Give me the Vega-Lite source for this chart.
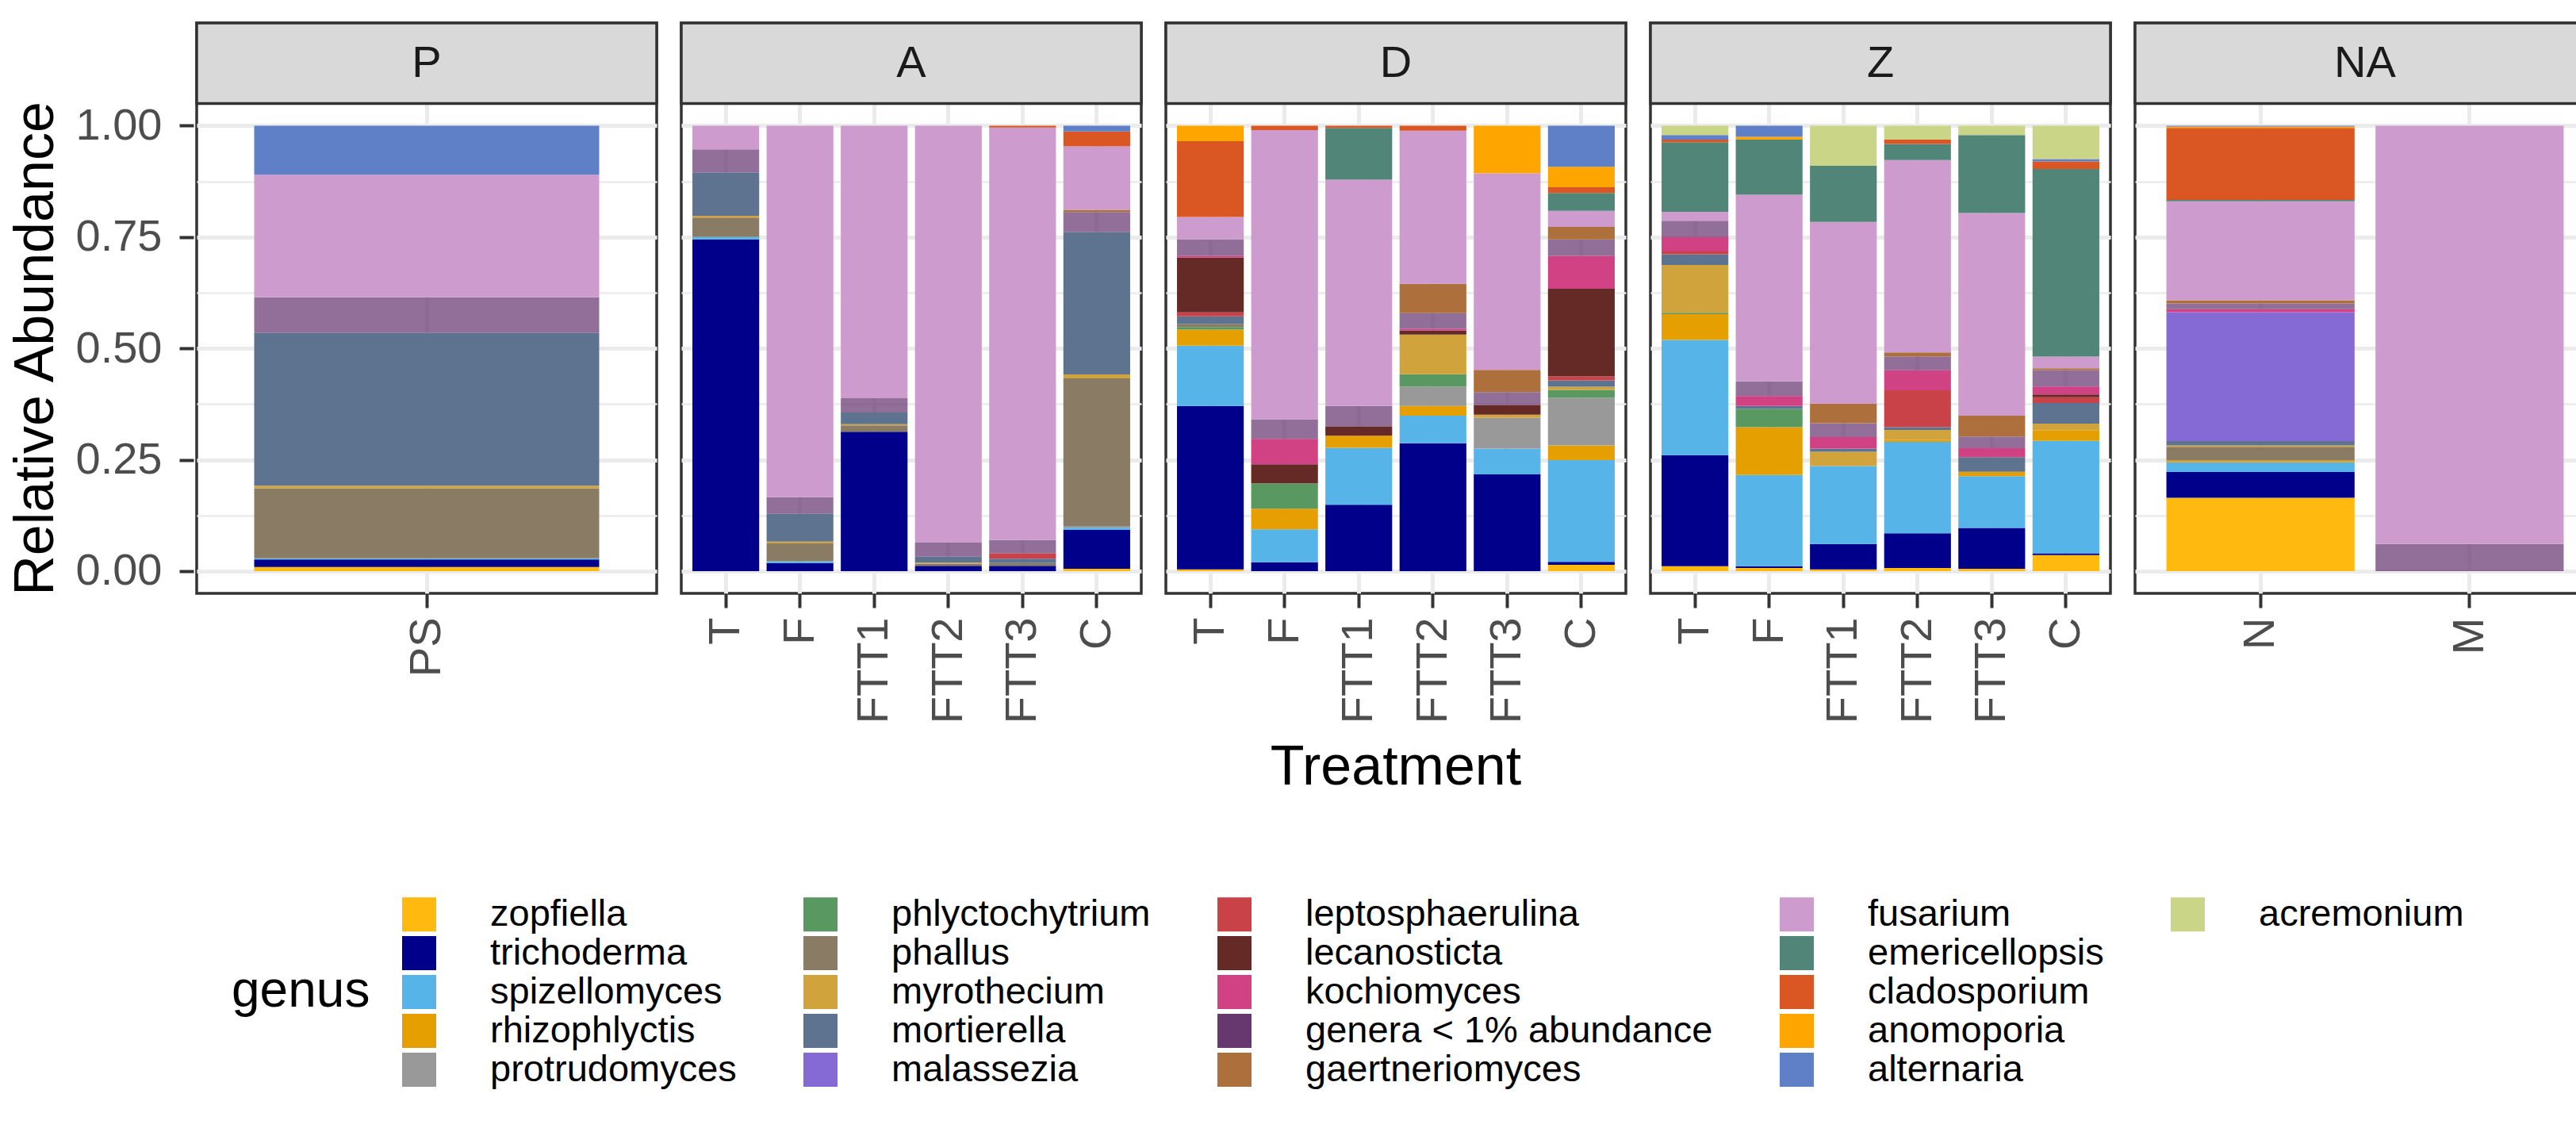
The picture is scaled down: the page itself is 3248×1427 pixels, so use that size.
{
  "$schema": "https://vega.github.io/schema/vega-lite/v6.json",
  "background": "white",
  "padding": {"left": 10, "top": 25, "right": 5, "bottom": 5},
  "data": {"values": [
    {"panel":"P","treatment":"PS","genus":"zopfiella","abundance":0.009},
    {"panel":"P","treatment":"PS","genus":"trichoderma","abundance":0.017},
    {"panel":"P","treatment":"PS","genus":"spizellomyces","abundance":0.003},
    {"panel":"P","treatment":"PS","genus":"phallus","abundance":0.157},
    {"panel":"P","treatment":"PS","genus":"myrothecium","abundance":0.006},
    {"panel":"P","treatment":"PS","genus":"mortierella","abundance":0.343},
    {"panel":"P","treatment":"PS","genus":"genera < 1% abundance","abundance":0.080},
    {"panel":"P","treatment":"PS","genus":"fusarium","abundance":0.275},
    {"panel":"P","treatment":"PS","genus":"alternaria","abundance":0.110},

    {"panel":"A","treatment":"T","genus":"trichoderma","abundance":0.745},
    {"panel":"A","treatment":"T","genus":"spizellomyces","abundance":0.005},
    {"panel":"A","treatment":"T","genus":"phallus","abundance":0.044},
    {"panel":"A","treatment":"T","genus":"myrothecium","abundance":0.004},
    {"panel":"A","treatment":"T","genus":"mortierella","abundance":0.097},
    {"panel":"A","treatment":"T","genus":"genera < 1% abundance","abundance":0.052},
    {"panel":"A","treatment":"T","genus":"fusarium","abundance":0.053},

    {"panel":"A","treatment":"F","genus":"trichoderma","abundance":0.018},
    {"panel":"A","treatment":"F","genus":"spizellomyces","abundance":0.004},
    {"panel":"A","treatment":"F","genus":"phallus","abundance":0.040},
    {"panel":"A","treatment":"F","genus":"myrothecium","abundance":0.004},
    {"panel":"A","treatment":"F","genus":"mortierella","abundance":0.063},
    {"panel":"A","treatment":"F","genus":"genera < 1% abundance","abundance":0.037},
    {"panel":"A","treatment":"F","genus":"fusarium","abundance":0.834},

    {"panel":"A","treatment":"FTT1","genus":"trichoderma","abundance":0.313},
    {"panel":"A","treatment":"FTT1","genus":"phallus","abundance":0.014},
    {"panel":"A","treatment":"FTT1","genus":"myrothecium","abundance":0.003},
    {"panel":"A","treatment":"FTT1","genus":"mortierella","abundance":0.026},
    {"panel":"A","treatment":"FTT1","genus":"genera < 1% abundance","abundance":0.032},
    {"panel":"A","treatment":"FTT1","genus":"fusarium","abundance":0.612},

    {"panel":"A","treatment":"FTT2","genus":"trichoderma","abundance":0.012},
    {"panel":"A","treatment":"FTT2","genus":"phallus","abundance":0.005},
    {"panel":"A","treatment":"FTT2","genus":"myrothecium","abundance":0.002},
    {"panel":"A","treatment":"FTT2","genus":"mortierella","abundance":0.014},
    {"panel":"A","treatment":"FTT2","genus":"genera < 1% abundance","abundance":0.031},
    {"panel":"A","treatment":"FTT2","genus":"fusarium","abundance":0.936},

    {"panel":"A","treatment":"FTT3","genus":"trichoderma","abundance":0.012},
    {"panel":"A","treatment":"FTT3","genus":"phallus","abundance":0.006},
    {"panel":"A","treatment":"FTT3","genus":"mortierella","abundance":0.010},
    {"panel":"A","treatment":"FTT3","genus":"leptosphaerulina","abundance":0.012},
    {"panel":"A","treatment":"FTT3","genus":"genera < 1% abundance","abundance":0.030},
    {"panel":"A","treatment":"FTT3","genus":"fusarium","abundance":0.926},
    {"panel":"A","treatment":"FTT3","genus":"cladosporium","abundance":0.004},

    {"panel":"A","treatment":"C","genus":"zopfiella","abundance":0.005},
    {"panel":"A","treatment":"C","genus":"trichoderma","abundance":0.087},
    {"panel":"A","treatment":"C","genus":"spizellomyces","abundance":0.005},
    {"panel":"A","treatment":"C","genus":"protrudomyces","abundance":0.004},
    {"panel":"A","treatment":"C","genus":"phallus","abundance":0.330},
    {"panel":"A","treatment":"C","genus":"myrothecium","abundance":0.009},
    {"panel":"A","treatment":"C","genus":"mortierella","abundance":0.318},
    {"panel":"A","treatment":"C","genus":"genera < 1% abundance","abundance":0.045},
    {"panel":"A","treatment":"C","genus":"gaertneriomyces","abundance":0.005},
    {"panel":"A","treatment":"C","genus":"fusarium","abundance":0.142},
    {"panel":"A","treatment":"C","genus":"cladosporium","abundance":0.033},
    {"panel":"A","treatment":"C","genus":"alternaria","abundance":0.013},

    {"panel":"D","treatment":"T","genus":"zopfiella","abundance":0.004},
    {"panel":"D","treatment":"T","genus":"trichoderma","abundance":0.367},
    {"panel":"D","treatment":"T","genus":"spizellomyces","abundance":0.135},
    {"panel":"D","treatment":"T","genus":"rhizophlyctis","abundance":0.036},
    {"panel":"D","treatment":"T","genus":"phlyctochytrium","abundance":0.006},
    {"panel":"D","treatment":"T","genus":"phallus","abundance":0.007},
    {"panel":"D","treatment":"T","genus":"mortierella","abundance":0.017},
    {"panel":"D","treatment":"T","genus":"leptosphaerulina","abundance":0.009},
    {"panel":"D","treatment":"T","genus":"lecanosticta","abundance":0.123},
    {"panel":"D","treatment":"T","genus":"kochiomyces","abundance":0.004},
    {"panel":"D","treatment":"T","genus":"genera < 1% abundance","abundance":0.037},
    {"panel":"D","treatment":"T","genus":"fusarium","abundance":0.050},
    {"panel":"D","treatment":"T","genus":"cladosporium","abundance":0.170},
    {"panel":"D","treatment":"T","genus":"anomoporia","abundance":0.035},

    {"panel":"D","treatment":"F","genus":"trichoderma","abundance":0.020},
    {"panel":"D","treatment":"F","genus":"spizellomyces","abundance":0.074},
    {"panel":"D","treatment":"F","genus":"rhizophlyctis","abundance":0.046},
    {"panel":"D","treatment":"F","genus":"phlyctochytrium","abundance":0.057},
    {"panel":"D","treatment":"F","genus":"lecanosticta","abundance":0.043},
    {"panel":"D","treatment":"F","genus":"kochiomyces","abundance":0.057},
    {"panel":"D","treatment":"F","genus":"genera < 1% abundance","abundance":0.044},
    {"panel":"D","treatment":"F","genus":"fusarium","abundance":0.649},
    {"panel":"D","treatment":"F","genus":"cladosporium","abundance":0.010},

    {"panel":"D","treatment":"FTT1","genus":"trichoderma","abundance":0.149},
    {"panel":"D","treatment":"FTT1","genus":"spizellomyces","abundance":0.128},
    {"panel":"D","treatment":"FTT1","genus":"rhizophlyctis","abundance":0.027},
    {"panel":"D","treatment":"FTT1","genus":"lecanosticta","abundance":0.021},
    {"panel":"D","treatment":"FTT1","genus":"genera < 1% abundance","abundance":0.046},
    {"panel":"D","treatment":"FTT1","genus":"fusarium","abundance":0.508},
    {"panel":"D","treatment":"FTT1","genus":"emericellopsis","abundance":0.116},
    {"panel":"D","treatment":"FTT1","genus":"cladosporium","abundance":0.005},

    {"panel":"D","treatment":"FTT2","genus":"trichoderma","abundance":0.287},
    {"panel":"D","treatment":"FTT2","genus":"spizellomyces","abundance":0.062},
    {"panel":"D","treatment":"FTT2","genus":"rhizophlyctis","abundance":0.022},
    {"panel":"D","treatment":"FTT2","genus":"protrudomyces","abundance":0.043},
    {"panel":"D","treatment":"FTT2","genus":"phlyctochytrium","abundance":0.028},
    {"panel":"D","treatment":"FTT2","genus":"myrothecium","abundance":0.089},
    {"panel":"D","treatment":"FTT2","genus":"lecanosticta","abundance":0.009},
    {"panel":"D","treatment":"FTT2","genus":"kochiomyces","abundance":0.004},
    {"panel":"D","treatment":"FTT2","genus":"genera < 1% abundance","abundance":0.035},
    {"panel":"D","treatment":"FTT2","genus":"gaertneriomyces","abundance":0.066},
    {"panel":"D","treatment":"FTT2","genus":"fusarium","abundance":0.344},
    {"panel":"D","treatment":"FTT2","genus":"cladosporium","abundance":0.011},

    {"panel":"D","treatment":"FTT3","genus":"trichoderma","abundance":0.217},
    {"panel":"D","treatment":"FTT3","genus":"spizellomyces","abundance":0.058},
    {"panel":"D","treatment":"FTT3","genus":"protrudomyces","abundance":0.069},
    {"panel":"D","treatment":"FTT3","genus":"myrothecium","abundance":0.007},
    {"panel":"D","treatment":"FTT3","genus":"lecanosticta","abundance":0.022},
    {"panel":"D","treatment":"FTT3","genus":"genera < 1% abundance","abundance":0.029},
    {"panel":"D","treatment":"FTT3","genus":"gaertneriomyces","abundance":0.050},
    {"panel":"D","treatment":"FTT3","genus":"fusarium","abundance":0.441},
    {"panel":"D","treatment":"FTT3","genus":"anomoporia","abundance":0.107},

    {"panel":"D","treatment":"C","genus":"zopfiella","abundance":0.014},
    {"panel":"D","treatment":"C","genus":"trichoderma","abundance":0.007},
    {"panel":"D","treatment":"C","genus":"spizellomyces","abundance":0.228},
    {"panel":"D","treatment":"C","genus":"rhizophlyctis","abundance":0.033},
    {"panel":"D","treatment":"C","genus":"protrudomyces","abundance":0.107},
    {"panel":"D","treatment":"C","genus":"phlyctochytrium","abundance":0.018},
    {"panel":"D","treatment":"C","genus":"myrothecium","abundance":0.007},
    {"panel":"D","treatment":"C","genus":"mortierella","abundance":0.014},
    {"panel":"D","treatment":"C","genus":"leptosphaerulina","abundance":0.009},
    {"panel":"D","treatment":"C","genus":"lecanosticta","abundance":0.197},
    {"panel":"D","treatment":"C","genus":"kochiomyces","abundance":0.074},
    {"panel":"D","treatment":"C","genus":"genera < 1% abundance","abundance":0.037},
    {"panel":"D","treatment":"C","genus":"gaertneriomyces","abundance":0.028},
    {"panel":"D","treatment":"C","genus":"fusarium","abundance":0.036},
    {"panel":"D","treatment":"C","genus":"emericellopsis","abundance":0.040},
    {"panel":"D","treatment":"C","genus":"cladosporium","abundance":0.013},
    {"panel":"D","treatment":"C","genus":"anomoporia","abundance":0.046},
    {"panel":"D","treatment":"C","genus":"alternaria","abundance":0.092},

    {"panel":"Z","treatment":"T","genus":"zopfiella","abundance":0.011},
    {"panel":"Z","treatment":"T","genus":"trichoderma","abundance":0.249},
    {"panel":"Z","treatment":"T","genus":"spizellomyces","abundance":0.258},
    {"panel":"Z","treatment":"T","genus":"rhizophlyctis","abundance":0.058},
    {"panel":"Z","treatment":"T","genus":"phlyctochytrium","abundance":0.003},
    {"panel":"Z","treatment":"T","genus":"myrothecium","abundance":0.107},
    {"panel":"Z","treatment":"T","genus":"mortierella","abundance":0.024},
    {"panel":"Z","treatment":"T","genus":"leptosphaerulina","abundance":0.006},
    {"panel":"Z","treatment":"T","genus":"kochiomyces","abundance":0.032},
    {"panel":"Z","treatment":"T","genus":"genera < 1% abundance","abundance":0.037},
    {"panel":"Z","treatment":"T","genus":"fusarium","abundance":0.020},
    {"panel":"Z","treatment":"T","genus":"emericellopsis","abundance":0.156},
    {"panel":"Z","treatment":"T","genus":"cladosporium","abundance":0.006},
    {"panel":"Z","treatment":"T","genus":"alternaria","abundance":0.010},
    {"panel":"Z","treatment":"T","genus":"acremonium","abundance":0.021},

    {"panel":"Z","treatment":"F","genus":"zopfiella","abundance":0.007},
    {"panel":"Z","treatment":"F","genus":"trichoderma","abundance":0.004},
    {"panel":"Z","treatment":"F","genus":"spizellomyces","abundance":0.205},
    {"panel":"Z","treatment":"F","genus":"rhizophlyctis","abundance":0.107},
    {"panel":"Z","treatment":"F","genus":"phlyctochytrium","abundance":0.041},
    {"panel":"Z","treatment":"F","genus":"mortierella","abundance":0.007},
    {"panel":"Z","treatment":"F","genus":"kochiomyces","abundance":0.022},
    {"panel":"Z","treatment":"F","genus":"genera < 1% abundance","abundance":0.033},
    {"panel":"Z","treatment":"F","genus":"fusarium","abundance":0.419},
    {"panel":"Z","treatment":"F","genus":"emericellopsis","abundance":0.124},
    {"panel":"Z","treatment":"F","genus":"anomoporia","abundance":0.006},
    {"panel":"Z","treatment":"F","genus":"alternaria","abundance":0.025},

    {"panel":"Z","treatment":"FTT1","genus":"zopfiella","abundance":0.004},
    {"panel":"Z","treatment":"FTT1","genus":"trichoderma","abundance":0.057},
    {"panel":"Z","treatment":"FTT1","genus":"spizellomyces","abundance":0.175},
    {"panel":"Z","treatment":"FTT1","genus":"myrothecium","abundance":0.032},
    {"panel":"Z","treatment":"FTT1","genus":"mortierella","abundance":0.007},
    {"panel":"Z","treatment":"FTT1","genus":"kochiomyces","abundance":0.026},
    {"panel":"Z","treatment":"FTT1","genus":"genera < 1% abundance","abundance":0.031},
    {"panel":"Z","treatment":"FTT1","genus":"gaertneriomyces","abundance":0.044},
    {"panel":"Z","treatment":"FTT1","genus":"fusarium","abundance":0.408},
    {"panel":"Z","treatment":"FTT1","genus":"emericellopsis","abundance":0.126},
    {"panel":"Z","treatment":"FTT1","genus":"acremonium","abundance":0.090},

    {"panel":"Z","treatment":"FTT2","genus":"zopfiella","abundance":0.007},
    {"panel":"Z","treatment":"FTT2","genus":"trichoderma","abundance":0.078},
    {"panel":"Z","treatment":"FTT2","genus":"spizellomyces","abundance":0.205},
    {"panel":"Z","treatment":"FTT2","genus":"rhizophlyctis","abundance":0.005},
    {"panel":"Z","treatment":"FTT2","genus":"myrothecium","abundance":0.022},
    {"panel":"Z","treatment":"FTT2","genus":"mortierella","abundance":0.006},
    {"panel":"Z","treatment":"FTT2","genus":"leptosphaerulina","abundance":0.083},
    {"panel":"Z","treatment":"FTT2","genus":"kochiomyces","abundance":0.045},
    {"panel":"Z","treatment":"FTT2","genus":"genera < 1% abundance","abundance":0.031},
    {"panel":"Z","treatment":"FTT2","genus":"gaertneriomyces","abundance":0.009},
    {"panel":"Z","treatment":"FTT2","genus":"fusarium","abundance":0.432},
    {"panel":"Z","treatment":"FTT2","genus":"emericellopsis","abundance":0.036},
    {"panel":"Z","treatment":"FTT2","genus":"cladosporium","abundance":0.010},
    {"panel":"Z","treatment":"FTT2","genus":"acremonium","abundance":0.031},

    {"panel":"Z","treatment":"FTT3","genus":"zopfiella","abundance":0.005},
    {"panel":"Z","treatment":"FTT3","genus":"trichoderma","abundance":0.092},
    {"panel":"Z","treatment":"FTT3","genus":"spizellomyces","abundance":0.116},
    {"panel":"Z","treatment":"FTT3","genus":"rhizophlyctis","abundance":0.010},
    {"panel":"Z","treatment":"FTT3","genus":"mortierella","abundance":0.033},
    {"panel":"Z","treatment":"FTT3","genus":"kochiomyces","abundance":0.020},
    {"panel":"Z","treatment":"FTT3","genus":"genera < 1% abundance","abundance":0.026},
    {"panel":"Z","treatment":"FTT3","genus":"gaertneriomyces","abundance":0.047},
    {"panel":"Z","treatment":"FTT3","genus":"fusarium","abundance":0.455},
    {"panel":"Z","treatment":"FTT3","genus":"emericellopsis","abundance":0.175},
    {"panel":"Z","treatment":"FTT3","genus":"acremonium","abundance":0.021},

    {"panel":"Z","treatment":"C","genus":"zopfiella","abundance":0.036},
    {"panel":"Z","treatment":"C","genus":"trichoderma","abundance":0.004},
    {"panel":"Z","treatment":"C","genus":"spizellomyces","abundance":0.252},
    {"panel":"Z","treatment":"C","genus":"rhizophlyctis","abundance":0.024},
    {"panel":"Z","treatment":"C","genus":"myrothecium","abundance":0.015},
    {"panel":"Z","treatment":"C","genus":"mortierella","abundance":0.046},
    {"panel":"Z","treatment":"C","genus":"leptosphaerulina","abundance":0.013},
    {"panel":"Z","treatment":"C","genus":"lecanosticta","abundance":0.006},
    {"panel":"Z","treatment":"C","genus":"kochiomyces","abundance":0.018},
    {"panel":"Z","treatment":"C","genus":"genera < 1% abundance","abundance":0.037},
    {"panel":"Z","treatment":"C","genus":"gaertneriomyces","abundance":0.004},
    {"panel":"Z","treatment":"C","genus":"fusarium","abundance":0.026},
    {"panel":"Z","treatment":"C","genus":"emericellopsis","abundance":0.421},
    {"panel":"Z","treatment":"C","genus":"cladosporium","abundance":0.017},
    {"panel":"Z","treatment":"C","genus":"alternaria","abundance":0.005},
    {"panel":"Z","treatment":"C","genus":"acremonium","abundance":0.075},

    {"panel":"NA","treatment":"N","genus":"zopfiella","abundance":0.165},
    {"panel":"NA","treatment":"N","genus":"trichoderma","abundance":0.058},
    {"panel":"NA","treatment":"N","genus":"spizellomyces","abundance":0.022},
    {"panel":"NA","treatment":"N","genus":"rhizophlyctis","abundance":0.004},
    {"panel":"NA","treatment":"N","genus":"phallus","abundance":0.031},
    {"panel":"NA","treatment":"N","genus":"myrothecium","abundance":0.003},
    {"panel":"NA","treatment":"N","genus":"mortierella","abundance":0.010},
    {"panel":"NA","treatment":"N","genus":"malassezia","abundance":0.290},
    {"panel":"NA","treatment":"N","genus":"kochiomyces","abundance":0.007},
    {"panel":"NA","treatment":"N","genus":"genera < 1% abundance","abundance":0.013},
    {"panel":"NA","treatment":"N","genus":"gaertneriomyces","abundance":0.007},
    {"panel":"NA","treatment":"N","genus":"fusarium","abundance":0.223},
    {"panel":"NA","treatment":"N","genus":"emericellopsis","abundance":0.003},
    {"panel":"NA","treatment":"N","genus":"cladosporium","abundance":0.162},
    {"panel":"NA","treatment":"N","genus":"anomoporia","abundance":0.003},
    {"panel":"NA","treatment":"N","genus":"alternaria","abundance":0.002},

    {"panel":"NA","treatment":"M","genus":"genera < 1% abundance","abundance":0.061},
    {"panel":"NA","treatment":"M","genus":"fusarium","abundance":0.939}
  ]},
  "facet": {
    "column": {
      "field": "panel",
      "type": "nominal",
      "sort": ["P", "A", "D", "Z", "NA"],
      "header": {
        "labels": false,
        "title": "Treatment",
        "titleOrient": "bottom",
        "titleFont": "Liberation Sans",
        "titleFontSize": 70,
        "titleFontWeight": "normal",
        "titleColor": "black",
        "titlePadding": 10
      }
    }
  },
  "spacing": 23,
  "resolve": {"scale": {"x": "independent"}},
  "spec": {
    "width": 580,
    "height": 719,
    "layer": [
      {
        "mark": {"type": "bar"},
        "encoding": {
          "x": {
            "field": "treatment",
            "type": "nominal",
            "sort": ["PS", "T", "F", "FTT1", "FTT2", "FTT3", "C", "N", "M"],
            "scale": {"paddingInner": 0.1, "paddingOuter": 0.15},
            "axis": {
              "title": null,
              "labelAngle": -90,
              "labelFontSize": 56,
              "labelColor": "#4D4D4D",
              "labelPadding": 12,
              "tickSize": 18,
              "tickWidth": 4,
              "tickColor": "#333333",
              "domain": false,
              "grid": true,
              "gridColor": "#EBEBEB",
              "gridWidth": 5
            }
          },
          "y": {
            "field": "abundance",
            "type": "quantitative",
            "stack": "normalize",
            "scale": {"domain": [-0.05, 1.2306], "nice": false, "zero": false},
            "axis": {
              "title": "Relative Abundance",
              "titleY": 410,
              "values": [0, 0.125, 0.25, 0.375, 0.5, 0.625, 0.75, 0.875, 1],
              "labelExpr": "(datum.value * 4) % 1 === 0 ? format(datum.value, '.2f') : ''",
              "gridWidth": {"condition": {"test": "(datum.value * 4) % 1 === 0", "value": 5}, "value": 2.5},
              "tickOpacity": {"condition": {"test": "(datum.value * 4) % 1 === 0", "value": 1}, "value": 0},
              "gridColor": "#EBEBEB",
              "domain": false,
              "tickSize": 18,
              "tickWidth": 4,
              "tickColor": "#333333",
              "labelFontSize": 56,
              "labelColor": "#4D4D4D",
              "labelPadding": 22,
              "titleFontSize": 70,
              "titleFontWeight": "normal",
              "titleColor": "black",
              "titlePadding": 14
            }
          },
          "color": {
            "field": "genus",
            "type": "nominal",
            "scale": {
              "domain": ["zopfiella", "phlyctochytrium", "leptosphaerulina", "fusarium", "acremonium",
                         "trichoderma", "phallus", "lecanosticta", "emericellopsis", "~1",
                         "spizellomyces", "myrothecium", "kochiomyces", "cladosporium", "~2",
                         "rhizophlyctis", "mortierella", "genera < 1% abundance", "anomoporia", "~3",
                         "protrudomyces", "malassezia", "gaertneriomyces", "alternaria", "~4"],
              "range": ["#FFB90F", "#599861", "#C84248", "#CD9BCD", "#CBD588",
                        "#00008B", "#8A7C64", "#652926", "#508578", "transparent",
                        "#56B4E9", "#D1A33D", "#D14285", "#DA5724", "transparent",
                        "#E69F00", "#5E738F", "#673770", "#FFA500", "transparent",
                        "#999999", "#8569D5", "#AD6F3B", "#5F7FC7", "transparent"]
            },
            "legend": {
              "title": "genus",
              "orient": "bottom",
              "direction": "horizontal",
              "columns": 5,
              "padding": 44,
              "offset": 82,
              "titleOrient": "left",
              "titleAnchor": "middle",
              "titleBaseline": "middle",
              "titleFontSize": 64,
              "titleFontWeight": "normal",
              "titleColor": "black",
              "titleLimit": 0,
              "titlePadding": 38,
              "labelFontSize": 47,
              "labelColor": "black",
              "labelLimit": 0,
              "labelExpr": "indexof(datum.label, '~') === 0 ? '' : datum.label",
              "symbolType": "square",
              "symbolSize": 1849,
              "symbolStrokeWidth": 0,
              "labelOffset": 66,
              "rowPadding": 1,
              "columnPadding": 82
            }
          },
          "fillOpacity": {
            "condition": {"test": "datum.genus === 'genera < 1% abundance'", "value": 0.72},
            "value": 1
          },
          "order": {"field": "genus", "sort": "descending"}
        }
      },
      {
        "transform": [{"aggregate": [{"op": "count", "as": "n"}], "groupby": ["panel"]}],
        "mark": {"type": "rect", "fill": "#D9D9D9", "stroke": "#333333", "strokeWidth": 3.5},
        "encoding": {
          "y": {"datum": 1.05, "type": "quantitative"},
          "y2": {"datum": 1.2306}
        }
      },
      {
        "transform": [{"aggregate": [{"op": "count", "as": "n"}], "groupby": ["panel"]}],
        "mark": {"type": "text", "fontSize": 56, "color": "#1A1A1A", "baseline": "middle", "align": "center"},
        "encoding": {
          "y": {"datum": 1.14, "type": "quantitative"},
          "text": {"field": "panel", "type": "nominal"}
        }
      }
    ]
  },
  "config": {
    "font": "Liberation Sans",
    "view": {"stroke": "#333333", "strokeWidth": 3.5},
    "axis": {"labelFont": "Liberation Sans", "titleFont": "Liberation Sans"},
    "legend": {"labelFont": "Liberation Sans", "titleFont": "Liberation Sans"}
  }
}
